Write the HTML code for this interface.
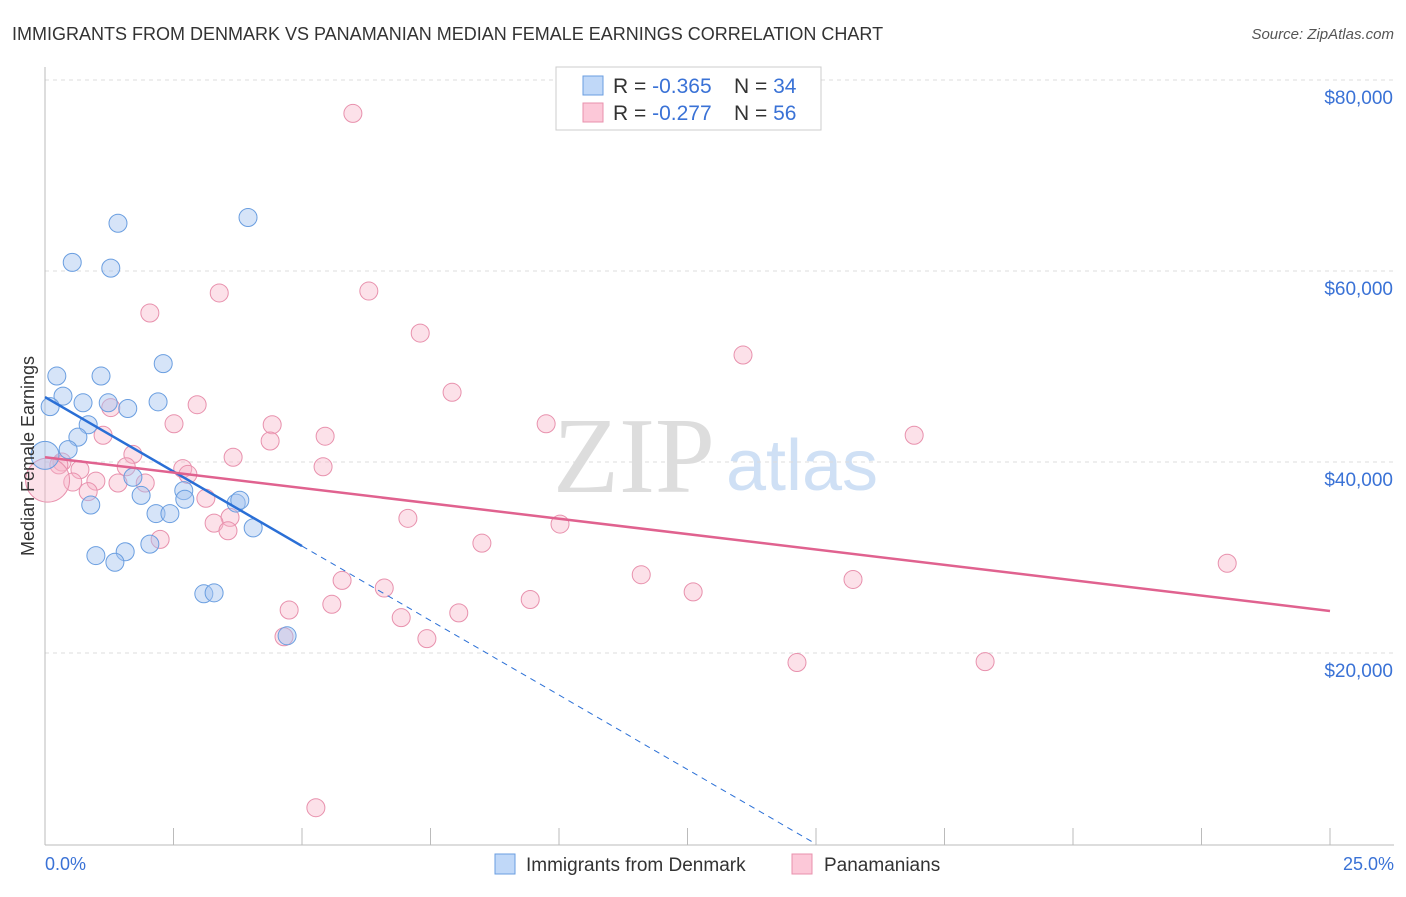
<!DOCTYPE html>
<html><head><meta charset="utf-8"><style>
body{margin:0;background:#fff;width:1406px;height:892px;overflow:hidden;font-family:"Liberation Sans",sans-serif}
</style></head><body>
<svg id="chart" width="1406" height="892" viewBox="0 0 1406 892" xmlns="http://www.w3.org/2000/svg">
<text x="12" y="40" font-size="18" fill="#333">IMMIGRANTS FROM DENMARK VS PANAMANIAN MEDIAN FEMALE EARNINGS CORRELATION CHART</text>
<text x="1394" y="39" font-size="15" fill="#555" font-style="italic" text-anchor="end">Source: ZipAtlas.com</text>
<g>
<text x="634" y="492" font-size="108" fill="#ddd" font-family="Liberation Serif,serif" text-anchor="middle">ZIP</text>
<text x="802" y="490" font-size="72" fill="#cfe0f5" text-anchor="middle">atlas</text>
</g>
<g id="grid"></g>
<g id="axes"></g>
<g id="pts"></g>
<g id="lines"></g>
<text x="34" y="456" font-size="18" fill="#333" text-anchor="middle" transform="rotate(-90 34 456)">Median Female Earnings</text>
<text x="45" y="870" font-size="18" fill="#3a72d6">0.0%</text>
<text x="1394" y="870" font-size="18" fill="#3a72d6" text-anchor="end">25.0%</text>
<g>
<rect x="556" y="67" width="265" height="63" fill="#fff" stroke="#ccc"/>
<rect x="583" y="76" width="20" height="19" fill="#c0d8f8" stroke="#6a9ee0"/>
<rect x="583" y="103" width="20" height="19" fill="#fcc8d8" stroke="#e891ad"/>
<text x="613" y="93" font-size="21" fill="#333">R = <tspan fill="#3a72d6">-0.365</tspan><tspan x="734">N = </tspan><tspan fill="#3a72d6">34</tspan></text>
<text x="613" y="120" font-size="21" fill="#333">R = <tspan fill="#3a72d6">-0.277</tspan><tspan x="734">N = </tspan><tspan fill="#3a72d6">56</tspan></text>
</g>
<g>
<rect x="495" y="854" width="20" height="20" fill="#c0d8f8" stroke="#6a9ee0"/>
<text x="526" y="871" font-size="19" fill="#333">Immigrants from Denmark</text>
<rect x="792" y="854" width="20" height="20" fill="#fcc8d8" stroke="#e891ad"/>
<text x="824" y="871" font-size="19" fill="#333">Panamanians</text>
</g>
</svg>
<script>
const yTicks=[20000,40000,60000,80000];
const yTickLabels=["$20,000","$40,000","$60,000","$80,000"];
const blueX=[0.23,0.35,0.10,0.0,0.53,1.42,1.28,3.95,1.09,0.74,1.23,1.61,2.20,2.30,0.84,0.64,0.45,1.87,1.71,0.89,2.16,2.43,2.70,2.72,3.72,3.79,4.05,2.04,1.56,0.99,1.36,3.09,3.29,4.71];
const blueY=[49000,46900,45800,40700,60900,65000,60300,65600,49000,46200,46200,45600,46300,50300,43900,42600,41300,36500,38400,35500,34600,34600,37000,36100,35700,36000,33100,31400,30600,30200,29500,26200,26300,21800];
const pinkX=[5.99,6.30,3.39,2.04,7.30,13.58,7.92,1.28,2.96,2.51,4.42,9.75,16.91,1.13,5.45,4.38,1.71,3.66,0.33,0.68,0.27,5.41,1.58,2.68,2.78,0.99,0.54,1.42,1.95,0.84,3.13,3.60,7.06,3.29,3.56,10.02,2.24,8.50,11.60,5.78,15.72,6.60,12.61,5.58,9.44,4.75,8.05,6.93,4.65,7.43,14.63,18.29,23.00,5.27,0.05];
const pinkY=[76500,57900,57700,55600,53500,51200,47300,45700,46000,44000,43900,44000,42800,42800,42700,42200,40800,40500,40000,39200,39700,39500,39500,39300,38700,38000,37900,37800,37800,36900,36200,34200,34100,33600,32800,33500,31900,31500,28200,27600,27700,26800,26400,25100,25600,24500,24200,23700,21700,21500,19000,19100,29400,3800,38100];
const blueTrend=[46800,-3120];
const pinkTrend=[40500,-644];
const NS="http://www.w3.org/2000/svg";
const xs=v=>45+v*51.4, ys=v=>844-v*191/20000;
function mk(t,a,p){const e=document.createElementNS(NS,t);for(const k in a)e.setAttribute(k,a[k]);p.appendChild(e);return e;}
const grid=document.getElementById('grid'),axes=document.getElementById('axes');
yTicks.forEach((t,i)=>{
 const l=mk('line',{x1:45,x2:1394,y1:ys(t),y2:ys(t),stroke:'#ddd','stroke-dasharray':'4,4'},grid);
 
 
 const tx=mk('text',{x:1393,y:ys(t)+24,'font-size':19,fill:'#3a72d6','text-anchor':'end'},axes);
 tx.textContent=yTickLabels[i];
 
 
});
const ax=mk('line',{x1:45,x2:1394,y1:845,y2:845,stroke:'#bbb'},axes);


const ay=mk('line',{x1:45,x2:45,y1:67,y2:845,stroke:'#bbb'},axes);


for(let i=1;i<=10;i++){const t=mk('line',{x1:xs(i*2.5),x2:xs(i*2.5),y1:828,y2:845,stroke:'#bbb'},axes);
 
 }
const pts=document.getElementById('pts');
pinkX.forEach((x,i)=>{const c=mk('circle',{cx:xs(x),cy:ys(pinkY[i]),r:i==pinkX.length-1?22:9,fill:'rgba(248,180,200,0.4)',stroke:'#e891ad','stroke-width':1},pts);
 
 });
blueX.forEach((x,i)=>{const c=mk('circle',{cx:xs(x),cy:ys(blueY[i]),r:i==3?14:9,fill:'rgba(164,196,240,0.45)',stroke:'#6a9ee0','stroke-width':1},pts);
 
 });
const lines=document.getElementById('lines');
const bv=x=>blueTrend[0]+blueTrend[1]*x;
const b1=mk('line',{x1:xs(0),y1:ys(bv(0)),x2:xs(5),y2:ys(bv(5)),stroke:'#2a6fd6','stroke-width':2.5},lines);


const xEnd=-blueTrend[0]/blueTrend[1];
const b2=mk('line',{x1:xs(5),y1:ys(bv(5)),x2:xs(xEnd),y2:ys(0),stroke:'#2a6fd6','stroke-width':1,'stroke-dasharray':'6,5'},lines);


const pv=x=>pinkTrend[0]+pinkTrend[1]*x;
const p1=mk('line',{x1:xs(0),y1:ys(pv(0)),x2:xs(25),y2:ys(pv(25)),stroke:'#e0628f','stroke-width':2.5},lines);


</script>
</body></html>
